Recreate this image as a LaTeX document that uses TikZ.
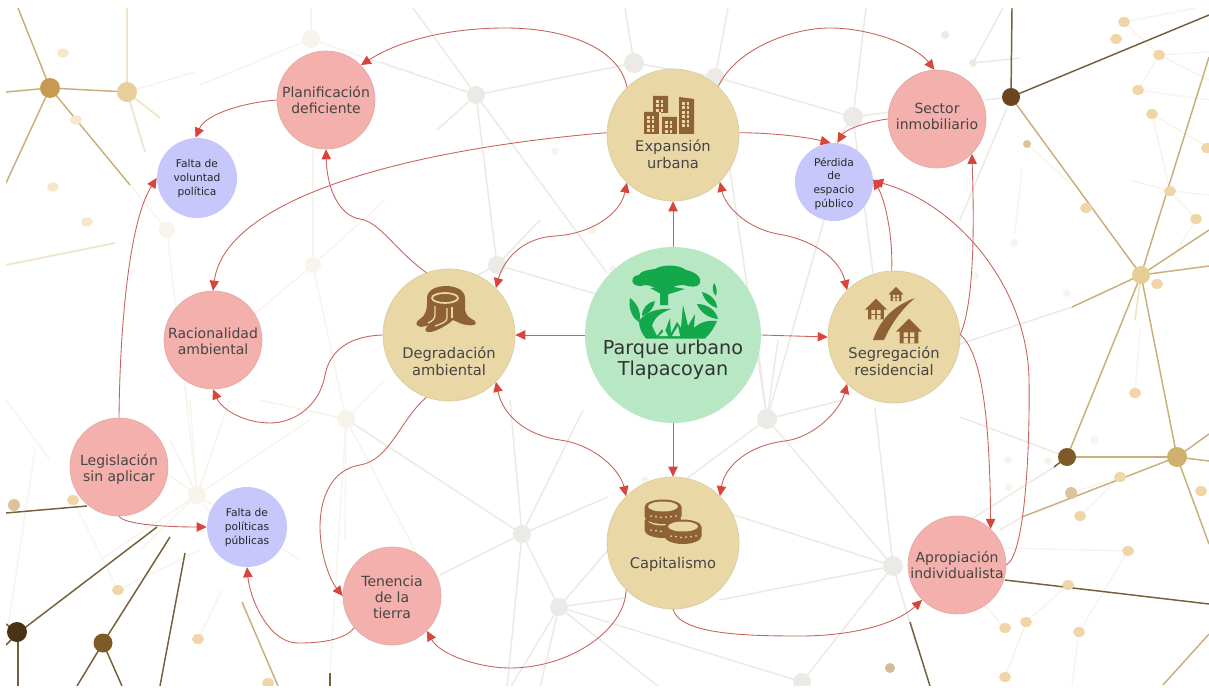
\documentclass[tikz,border=0pt]{standalone}
\usepackage{fontspec}
\setmainfont{DejaVu Sans}
\usetikzlibrary{arrows.meta}
\definecolor{ctan}{HTML}{E9D8A6}
\definecolor{cpink}{HTML}{F4B0AC}
\definecolor{cblue}{HTML}{C7C7FB}
\definecolor{cgreen}{HTML}{B8E7C4}
\definecolor{cbrown}{HTML}{8F6236}
\definecolor{cleaf}{HTML}{14A84C}
\definecolor{cred}{HTML}{D9443B}
\definecolor{cline}{HTML}{C8625A}
\definecolor{cgray}{HTML}{ECEAE6}
\definecolor{cpale}{HTML}{F7F4EC}
\definecolor{cgold}{HTML}{C9AF7B}
\definecolor{clgold}{HTML}{EFE5C8}
\definecolor{cdark}{HTML}{74603A}
\definecolor{cpeach}{HTML}{F1D5A6}
\definecolor{ctxt}{HTML}{454545}
\definecolor{hgold}{HTML}{C69A52}
\definecolor{hlgold}{HTML}{E6CF9C}
\definecolor{hdark}{HTML}{6B4520}
\definecolor{hsand}{HTML}{E6CF94}
\definecolor{hdarkb}{HTML}{7E5A28}
\definecolor{hgoldb}{HTML}{D0B06E}
\definecolor{hdarkc}{HTML}{4A3216}
\definecolor{dota}{HTML}{DDC39A}
\definecolor{dotb}{HTML}{D2BC98}
\newcommand\lowtext[2]{\smash{\raisebox{#1}{\begin{tabular}[c]{@{}c@{}}#2\end{tabular}}}}
\tikzset{
  x=0.75pt,y=-0.75pt,
  hub/.style={circle,inner sep=0pt,minimum size=99pt,fill=ctan,draw=ctan!85!gray,line width=.5pt,text=ctxt,font=\fontsize{11}{12.5}\selectfont},
  issue/.style={circle,inner sep=0pt,minimum size=73.5pt,fill=cpink,draw=cpink!85!gray,line width=.5pt,text=ctxt,font=\fontsize{10.5}{12.2}\selectfont},
  effect/.style={circle,inner sep=0pt,minimum size=60pt,fill=cblue,text=black!85,font=\fontsize{8}{10.3}\selectfont},
  core/.style={circle,inner sep=0pt,minimum size=132pt,fill=cgreen,text=black!80,font=\fontsize{14.4}{15}\selectfont},
  link/.style={draw=cline,line width=.65pt,-{Triangle[length=7.5pt,width=7pt,fill=cred,color=cred]}},
  bilink/.style={draw=cline,line width=.65pt,{Triangle[length=7.5pt,width=7pt,fill=cred,color=cred]}-{Triangle[length=7.5pt,width=7pt,fill=cred,color=cred]}},
  win/.style={fill=ctan,draw=none},
}
\begin{document}
\begin{tikzpicture}
\useasboundingbox (0,0) rectangle (1209,688);
\fill[white] (0,0) rectangle (1209,688);
\begin{scope}
\clip (6,8) rectangle (1209,685);
% ---- pale grey network
\foreach \ax/\ay/\bx/\by in {476/95/413/8,476/95/380/62,476/95/634/63,476/95/437/130,476/95/497/265,476/95/607/273,
 634/63/625/8,634/63/715/77,715/77/728/8,715/77/853/117,853/117/866/8,853/117/873/273,853/117/890/112,853/117/834/145,
 825/217/767/419,767/419/730/170,767/419/843/400,767/419/893/566,767/419/682/482,767/419/757/340,767/419/778/340,
 893/566/719/510,893/566/719/600,893/566/875/408,893/566/802/682,893/566/918/650,
 559/607/522/534,559/607/608/550,559/607/625/598,559/607/802/682,559/607/660/688,559/607/510/688,559/607/540/688,
 522/534/346/419,522/534/440/575,522/534/608/497,522/534/510/400,522/534/583/410,522/534/507/688,
 497/265/430/300,497/265/603/296,497/265/540/220,
 1054/467/970/520,1067/457/960/417,1072/307/960/344,1007/108/960/220,1011/97/985/100,
 973/63/1003/8,973/63/1020/58,1022/517/1000/530}
  {\draw[cgray,line width=1.1pt] (\ax,\ay) -- (\bx,\by);}
% ---- very pale network
\foreach \ax/\ay/\bx/\by in {311/39/311/8,311/39/200/85,311/39/400/70,197/495/100/560,197/495/310/420,197/495/170/440,197/495/190/400,197/495/230/400,
 197/495/120/440,197/495/140/550,197/495/300/560,197/495/250/570,167/230/130/185,167/230/197/495,313/265/313/150,313/265/200/360,313/265/385/200,
 313/265/346/419,346/419/385/380,346/419/260/400,346/419/345/540,346/419/330/673,346/419/420/560,
 6/400/50/460,35/450/6/640,127/92/195/72,73/500/118/590,118/590/200/550,198/639/222/590,
 1128/551/1079/632,1079/632/1072/686,1128/551/1005/548,1026/622/1005/677,1026/622/1068/585,1005/628/980/600,1071/493/1120/477,1080/516/1120/477,
 1124/22/1196/8,1159/55/1124/22,1159/55/1138/90,1159/55/1209/52,1159/55/1209/80,1138/90/1209/100,1152/114/1170/191,1152/114/1209/148,
 1170/191/1130/180,1170/191/1209/195,1170/191/1196/219,1196/219/1165/270,1135/393/1140/330,1027/144/1070/183,1022/167/1015/233}
  {\draw[cpale,line width=1pt] (\ax,\ay) -- (\bx,\by);}
% ---- light gold
\foreach \ax/\ay/\bx/\by in {127/92/127/8,127/92/160/118,127/92/145/152,6/265/115/243,1135/320/1141/275}
  {\draw[clgold,line width=1.3pt] (\ax,\ay) -- (\bx,\by);}
% ---- gold
\foreach \ax/\ay/\bx/\by in {6/92/50/88,50/88/18/8,50/88/127/92,50/88/6/183,50/88/130/185,
 1141/275/1011/97,1141/275/1209/57,1141/275/1209/230,1141/275/1209/266,1141/275/1072/307,1141/275/1067/457,1141/275/1177/457,
 1177/457/1067/457,1177/457/1209/544,1177/457/1209/434,1177/457/1209/461,1177/457/1022/517,1163/685/1209/634,242/602/278/686}
  {\draw[cgold,line width=1.1pt] (\ax,\ay) -- (\bx,\by);}
% ---- dark
\foreach \ax/\ay/\bx/\by in {1011/97/1012/8,1011/97/1209/15,1005/580/1209/604,1067/457/1054/467,18/633/157/527,18/633/18/686,18/633/6/624,18/633/6/645,
 103/643/170/537,103/643/77/686,103/643/122/686,185/553/160/686,6/513/87/506,910/622/930/686,330/673/330/686}
  {\draw[cdark,line width=1.1pt] (\ax,\ay) -- (\bx,\by);}
% ---- peach dots
\foreach \px/\py in {63/53,76/120,53/187,87/222}
  {\fill[cpeach!60] (\px,\py) ellipse[x radius=6,y radius=4.5];}
\foreach \px/\py in {1124/22,1116/39,1159/55,1138/90,1152/114,1207/148,1170/191,1196/219,1157/284,1086/208,
 1135/393,1120/477,1201/491,1128/551,1068/585,1079/632,1026/622,1005/628,1005/677,1080/516,118/590,198/639,73/500,268/683}
  {\fill[cpeach] (\px,\py) ellipse[x radius=6,y radius=5];}
\fill[dota] (14,505) circle[radius=6];
\fill[dota] (1071,493) circle[radius=6];
\fill[dotb] (890,668) circle[radius=5];
\fill[dota] (1027,144) circle[radius=4];
\fill[cgray] (973,63) circle[radius=4];
\fill[cgray] (945,35) circle[radius=4];
% ---- grey hubs
\foreach \px/\py/\r in {476/95/9,634/63/10,715/77/9,853/117/10,767/419/10,893/566/10,522/534/9,559/607/9,802/682/9,497/265/9}
  {\fill[cgray] (\px,\py) circle[radius=\r];}
\foreach \px/\py/\r in {311/39/9,197/495/9,346/419/9,313/265/8,167/230/8}
  {\fill[cpale] (\px,\py) circle[radius=\r];}
\foreach \px/\py in {555/151,1014/243,975/276,1067/293,1094/440,1009/487,1008/460,1048/461,592/230,613/270,700/600,645/480}
  {\fill[cpale] (\px,\py) circle[radius=4];}
% ---- coloured hubs
\fill[hgold] (50,88) circle[radius=10];
\fill[hlgold] (127,92) circle[radius=10];
\fill[hdark] (1011,97) circle[radius=9];
\fill[hsand] (1141,275) circle[radius=9];
\fill[hdarkb] (1067,457) circle[radius=9];
\fill[hgoldb] (1177,457) circle[radius=10];
\fill[hdarkc] (17,632) circle[radius=10];
\fill[hdarkb] (103,643) circle[radius=9.5];
\end{scope}
% ---- nodes
\node[core] (park) at (673,335) {\lowtext{-23pt}{Parque urbano\\Tlapacoyan}};
\node[hub] (exp) at (673,135) {\lowtext{-19pt}{Expansión\\urbana}};
\node[hub] (deg) at (449,335) {\lowtext{-24pt}{Degradación\\ambiental}};
\node[hub] (seg) at (894,337) {\lowtext{-22.5pt}{Segregación\\residencial}};
\node[hub] (cap) at (673,543) {\lowtext{-19.5pt}{Capitalismo}};
\node[issue] (plan) at (326,100) {\lowtext{-4.5pt}{Planificación\\deficiente}};
\node[issue] (sect) at (937,119) {\lowtext{-2pt}{Sector\\inmobiliario}};
\node[issue] (raci) at (213,340) {\lowtext{-5pt}{Racionalidad\\ambiental}};
\node[issue] (legi) at (119,467) {\lowtext{-5pt}{Legislación\\sin aplicar}};
\node[issue] (apro) at (957,565) {\lowtext{-4.5pt}{Apropiación\\individualista}};
\node[issue] (tene) at (392,596) {\lowtext{-5pt}{Tenencia\\de la\\tierra}};
\node[effect] (volu) at (197,178) {\lowtext{-2.5pt}{Falta de\\voluntad\\política}};
\node[effect] (poli) at (247,527) {\lowtext{-2.5pt}{Falta de\\políticas\\públicas}};
\node[effect,minimum size=58.5pt] (perd) at (834,182) {\lowtext{-3.5pt}{Pérdida\\de\\espacio\\público}};
% ---- connectors
\draw[link] (park.90) -- (exp.-90);
\draw[link] (park.180) -- (deg.0);
\draw[link] (park.0) -- (seg.180);
\draw[link] (park.-90) -- (cap.90);
\draw[bilink] (deg.45) .. controls (503,262) and (520,238) .. (555,236) .. controls (590,234) and (620,215) .. (exp.-134);
\draw[bilink] (exp.-45) .. controls (725,205) and (745,228) .. (778,234) .. controls (815,240) and (840,260) .. (seg.135);
\draw[bilink] (deg.-45) .. controls (503,415) and (525,435) .. (560,440) .. controls (595,445) and (620,470) .. (cap.135);
\draw[bilink] (seg.-135) .. controls (840,410) and (815,437) .. (785,441) .. controls (750,445) and (725,465) .. (cap.45);
\draw[link] (exp.134) .. controls (620,50) and (570,28) .. (505,28) .. controls (450,28) and (400,40) .. (plan.45);
\draw[link] (exp.47) .. controls (735,50) and (790,28) .. (830,28) .. controls (870,28) and (915,45) .. (sect.93);
\draw[link] (exp.2) .. controls (780,133) and (810,138) .. (perd.95);
\draw[link] (sect.180) .. controls (865,122) and (845,130) .. (perd.85);
\draw[link] (exp.178) .. controls (400,150) and (225,200) .. (raci.90);
\draw[link] (plan.180) .. controls (240,103) and (205,115) .. (volu.92);
\draw[link] (deg.110) .. controls (395,250) and (380,222) .. (360,219) .. controls (340,216) and (327,190) .. (plan.-90);
\draw[link] (deg.180) .. controls (350,336) and (330,350) .. (325,375) .. controls (320,405) and (295,423) .. (270,423) .. controls (245,423) and (222,410) .. (raci.-90);
\draw[link] (deg.-110) .. controls (400,420) and (390,460) .. (360,465) .. controls (330,470) and (320,500) .. (320,527) .. controls (320,555) and (330,580) .. (tene.180);
\draw[link] (legi.90) .. controls (120,320) and (130,220) .. (volu.180);
\draw[link] (legi.-90) .. controls (125,525) and (170,527) .. (poli.180);
\draw[link] (tene.-140) .. controls (345,640) and (320,643) .. (300,643) .. controls (270,645) and (250,600) .. (poli.-90);
\draw[link] (cap.-135) .. controls (625,630) and (570,668) .. (510,668) .. controls (480,668) and (440,655) .. (tene.-45);
\draw[link] (cap.-90) .. controls (680,635) and (750,636) .. (800,636) .. controls (850,636) and (895,625) .. (apro.-135);
\draw[link] (seg.92) .. controls (893,235) and (885,200) .. (perd.4);
\draw[link] (seg.2) .. controls (975,300) and (974,220) .. (sect.-45);
\draw[link] (seg.2) .. controls (985,355) and (990,440) .. (apro.47);
\draw[link] (apro.0) .. controls (1025,555) and (1030,450) .. (1029,380) .. controls (1028,290) and (960,205) .. (perd.2);
% ---- icons: buildings
\fill[cbrown] (644,112) rectangle (659,134) (653,96) rectangle (668,113) (662,117) rectangle (677,134) (679,97) -- (694,99) -- (694,134) -- (679,134) -- cycle;
\foreach \wx/\wy/\wn/\wm in {647/116/2/4,656/100/2/3,665/121/2/3,682/102/2/6}
 \foreach \wi in {1,...,\wn} \foreach \wj in {1,...,\wm} {\fill[win] ({\wx+(\wi-1)*4.5},{\wy+(\wj-1)*4.5}) rectangle +(2.6,2.6);}
\draw[ctan,line width=.9pt] (659,114) -- (668,114) (660,112) -- (660,134) (678,100) -- (678,134) (668,115.5) -- (677,115.5);
% ---- icon: stump
\fill[cbrown] (427,298) .. controls (427,282) and (465,282) .. (465,298) -- (465,310) .. controls (466,316) and (470,318) .. (475,321) .. controls (478,325) and (472,326) .. (468,325) .. controls (462,325) and (458,322) .. (453,320) -- (448,324) .. controls (440,329) and (432,333) .. (427,332) .. controls (424,330) and (425,327) .. (430,325) -- (421,327) .. controls (415,326) and (415,322) .. (420,319) .. controls (425,316) and (427,310) .. (427,304) -- cycle;
\draw[ctan,line width=1.3pt] (445,298) ellipse[x radius=13,y radius=5];
\draw[ctan,line width=1pt] (435,306) -- (435,315) .. controls (435,319) and (432,321) .. (428,323);
\draw[ctan,line width=1pt] (447,308) -- (447,318) .. controls (447,322) and (441,324) .. (435,326);
\draw[ctan,line width=1pt] (452,307) -- (452,318);
% ---- icon: houses and road
\fill[cbrown] (873,340) .. controls (880,320) and (893,306) .. (915,298) .. controls (903,308) and (892,322) .. (884,340) -- cycle;
\foreach \cx/\cy/\s in {876/309/11,896/294/7.5,909/331/13} {
 \fill[cbrown] ({\cx-\s},{\cy+.05*\s}) -- (\cx,{\cy-.95*\s}) -- ({\cx+\s},{\cy+.05*\s}) -- ({\cx+.72*\s},{\cy+.05*\s}) -- ({\cx+.72*\s},{\cy+.95*\s}) -- ({\cx-.72*\s},{\cy+.95*\s}) -- ({\cx-.72*\s},{\cy+.05*\s}) -- cycle;
 \fill[ctan] ({\cx-.42*\s},{\cy+.1*\s}) rectangle ({\cx-.08*\s},{\cy+.45*\s}) ({\cx+.08*\s},{\cy+.1*\s}) rectangle ({\cx+.42*\s},{\cy+.45*\s}) ({\cx-.42*\s},{\cy+.55*\s}) rectangle ({\cx-.08*\s},{\cy+.95*\s}) ({\cx+.08*\s},{\cy+.55*\s}) rectangle ({\cx+.42*\s},{\cy+.95*\s});
}
% ---- icon: coins
\foreach \cx/\cy in {663/521,663/507,683/527} {
 \fill[cbrown] ({\cx-18.5},\cy) -- ({\cx-18.5},{\cy+9}) arc[start angle=180,end angle=0,x radius=18.5,y radius=8] -- ({\cx+18.5},\cy) arc[start angle=0,end angle=-180,x radius=18.5,y radius=7.5] -- cycle;
 \fill[ctan] (\cx,{\cy-.5}) ellipse[x radius=15,y radius=5];
 \foreach \d in {-12,-7,-2,3,8,13} {\fill[ctan] ({\cx+\d},{\cy+10.5-abs(\d)*.12}) circle[radius=1];}
}
% ---- icon: park
\fill[cleaf] (635,285) .. controls (629,280) and (634,275) .. (639,275) .. controls (642,269) and (655,270) .. (657,268) .. controls (665,264) and (680,265) .. (686,270) .. controls (696,272) and (702,278) .. (700,283) .. controls (698,288) and (690,287) .. (684,285) .. controls (676,285) and (670,287) .. (668,293) -- (668,305) -- (660,305) -- (660,293) .. controls (658,288) and (650,285) .. (645,285) .. controls (641,286) and (638,287) .. (635,285) -- cycle;
\fill[cleaf] (650,288) -- (660,287) -- (663,295) -- cycle (685,289) -- (668,286) -- (666,295) -- cycle;
\fill[cleaf] (630,298) .. controls (638,304) and (642,314) .. (639,322) .. controls (632,318) and (628,308) .. (630,298) -- cycle;
\fill[cleaf] (655,301) .. controls (648,302) and (642,308) .. (642,316) .. controls (649,314) and (654,308) .. (655,301) -- cycle;
\fill[cleaf] (702,292) .. controls (710,294) and (717,300) .. (717,308) .. controls (710,306) and (704,300) .. (702,292) -- cycle;
\fill[cleaf] (697,304) .. controls (707,304) and (716,310) .. (718,319) .. controls (708,318) and (700,312) .. (697,304) -- cycle;
\fill[cleaf] (714,283) .. controls (717,287) and (717,292) .. (716,296) .. controls (712,292) and (712,287) .. (714,283) -- cycle;
\fill[cleaf] (639,321) .. controls (645,312) and (658,308) .. (671,309) .. controls (660,313) and (654,318) .. (652,326) -- (657,336) -- (662,329) -- (664,334) -- (670,318) -- (671,333) -- (677,322) -- (681,328) -- (683,305) -- (688,326) -- (695,314) -- (694,328) .. controls (700,322) and (708,320) .. (717,321) .. controls (714,328) and (710,334) .. (705,338.5) -- (646,338.5) .. controls (642,334) and (639,328) .. (639,321) -- cycle;
\fill[cgreen] (659,336) -- (665,330) -- (668,336) -- cycle (672,336) -- (678,326) -- (680,336) -- cycle;
\end{tikzpicture}
\end{document}
